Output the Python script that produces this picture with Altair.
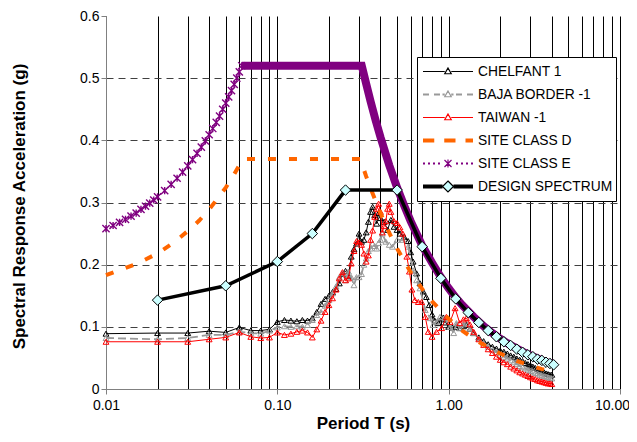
import altair as alt
import pandas as pd

# ---------------- data ----------------
SERIES = ["CHELFANT 1", "BAJA BORDER -1", "TAIWAN -1", "SITE CLASS D", "SITE CLASS E", "DESIGN SPECTRUM"]

CHELFANT_T = [0.01, 0.02, 0.03, 0.04, 0.05, 0.06, 0.07, 0.08, 0.09, 0.10,
              0.11, 0.12, 0.13, 0.14, 0.15, 0.16, 0.17, 0.18, 0.19, 0.20,
              0.21, 0.22, 0.23, 0.24, 0.25, 0.26, 0.27, 0.28, 0.29, 0.30,
              0.31, 0.32, 0.33, 0.34, 0.35, 0.36, 0.37, 0.38, 0.39, 0.40,
              0.42, 0.44, 0.46, 0.48, 0.50, 0.52, 0.55, 0.58, 0.60, 0.62,
              0.65, 0.68, 0.71, 0.74, 0.77, 0.80, 0.83, 0.87, 0.90, 0.93,
              0.96, 1.00, 1.05, 1.10, 1.16, 1.22, 1.27, 1.33,
              1.4, 1.5, 1.6, 1.7, 1.8, 1.9, 2.0, 2.1, 2.2, 2.3, 2.4, 2.5, 2.6, 2.7,
              2.8, 2.9, 3.0, 3.1, 3.2, 3.3, 3.4, 3.5, 3.6, 3.7, 3.8, 3.9, 4.0]
CHELFANT_SA = [0.089, 0.090, 0.090, 0.093, 0.091, 0.099, 0.094, 0.094, 0.096, 0.108,
               0.111, 0.110, 0.109, 0.111, 0.110, 0.114, 0.124, 0.137, 0.145, 0.150,
               0.156, 0.161, 0.170, 0.185, 0.190, 0.182, 0.213, 0.225, 0.234, 0.250,
               0.237, 0.240, 0.252, 0.269, 0.285, 0.293, 0.280, 0.266, 0.283, 0.275,
               0.269, 0.256, 0.272, 0.261, 0.256, 0.250, 0.245, 0.238, 0.220, 0.205,
               0.186, 0.170, 0.157, 0.148, 0.135, 0.120, 0.110, 0.106, 0.112, 0.115,
               0.107, 0.100, 0.099, 0.100, 0.098, 0.101, 0.103, 0.097,
               0.090, 0.083, 0.077, 0.072, 0.068, 0.065, 0.062, 0.060, 0.057, 0.054,
               0.052, 0.049, 0.047, 0.045, 0.042, 0.040, 0.038, 0.036, 0.034, 0.032,
               0.030, 0.029, 0.027, 0.025, 0.024, 0.023, 0.023]

BAJA_T = [0.01, 0.02, 0.03, 0.04, 0.05, 0.06, 0.07, 0.08, 0.09, 0.10,
          0.11, 0.12, 0.13, 0.14, 0.15, 0.16, 0.17, 0.18, 0.19, 0.20,
          0.21, 0.22, 0.23, 0.24, 0.25, 0.26, 0.27, 0.28, 0.29, 0.30,
          0.31, 0.32, 0.33, 0.34, 0.35, 0.36, 0.37, 0.38, 0.39, 0.40, 0.41,
          0.43, 0.45, 0.47, 0.50, 0.54, 0.58, 0.62, 0.65, 0.68, 0.73, 0.78,
          0.81, 0.85, 0.89, 0.95, 1.02, 1.07, 1.11, 1.16, 1.22, 1.27, 1.33,
          1.4, 1.5, 1.6, 1.7, 1.8, 1.9, 2.0, 2.1, 2.2, 2.3, 2.4, 2.5, 2.6, 2.7,
          2.8, 2.9, 3.0, 3.1, 3.2, 3.3, 3.4, 3.5, 3.6, 3.7, 3.8, 3.9, 4.0]
BAJA_SA = [0.082, 0.080, 0.082, 0.087, 0.087, 0.092, 0.090, 0.089, 0.094, 0.099,
           0.101, 0.100, 0.101, 0.100, 0.103, 0.111, 0.119, 0.124, 0.134, 0.143,
           0.154, 0.165, 0.180, 0.186, 0.175, 0.189, 0.180, 0.167, 0.180, 0.180,
           0.185, 0.200, 0.210, 0.222, 0.226, 0.234, 0.230, 0.226, 0.235, 0.240, 0.250,
           0.237, 0.232, 0.229, 0.240, 0.240, 0.229, 0.191, 0.175, 0.162, 0.127, 0.114,
           0.103, 0.108, 0.116, 0.114, 0.100, 0.090, 0.106, 0.098, 0.104, 0.106, 0.097,
           0.090, 0.081, 0.074, 0.068, 0.063, 0.059, 0.055, 0.052, 0.049, 0.046,
           0.043, 0.040, 0.037, 0.035, 0.033, 0.031, 0.029, 0.028, 0.026, 0.025,
           0.023, 0.022, 0.021, 0.020, 0.019, 0.018, 0.017]

TAIWAN_T = [0.01, 0.02, 0.03, 0.04, 0.05, 0.06, 0.07, 0.08, 0.09, 0.10,
            0.11, 0.12, 0.13, 0.14, 0.15, 0.16, 0.17, 0.18, 0.19, 0.20,
            0.21, 0.22, 0.23, 0.24, 0.25, 0.26, 0.27, 0.28, 0.29, 0.30,
            0.31, 0.32, 0.33, 0.34, 0.35, 0.36, 0.37, 0.38, 0.39, 0.40,
            0.41, 0.42, 0.43, 0.44, 0.45, 0.46,
            0.48, 0.50, 0.52, 0.54, 0.57, 0.59, 0.61, 0.635, 0.665, 0.695, 0.73,
            0.76, 0.80, 0.85, 0.91, 0.97, 1.02, 1.09, 1.16, 1.22, 1.27, 1.33,
            1.4, 1.5, 1.6, 1.7, 1.8, 1.9, 2.0, 2.1, 2.2, 2.3, 2.4, 2.5, 2.6, 2.7,
            2.8, 2.9, 3.0, 3.1, 3.2, 3.3, 3.4, 3.5, 3.6, 3.7, 3.8, 3.9, 4.0]
TAIWAN_SA = [0.076, 0.076, 0.076, 0.080, 0.083, 0.091, 0.084, 0.082, 0.083, 0.091,
             0.087, 0.089, 0.092, 0.094, 0.091, 0.083, 0.096, 0.110, 0.124, 0.135,
             0.146, 0.160, 0.178, 0.188, 0.175, 0.178, 0.202, 0.222, 0.238, 0.236,
             0.232, 0.218, 0.205, 0.215, 0.240, 0.255, 0.277, 0.290, 0.298, 0.285,
             0.252, 0.262, 0.270, 0.290, 0.298, 0.285,
             0.270, 0.267, 0.260, 0.250, 0.213, 0.189, 0.160, 0.143, 0.140, 0.140, 0.116,
             0.092, 0.084, 0.092, 0.098, 0.116, 0.108, 0.130, 0.106, 0.112, 0.114, 0.104,
             0.092, 0.080, 0.071, 0.064, 0.058, 0.052, 0.047, 0.043, 0.040, 0.036,
             0.033, 0.030, 0.027, 0.025, 0.023, 0.021, 0.019, 0.017, 0.016, 0.014,
             0.013, 0.012, 0.011, 0.010, 0.009, 0.009, 0.008]

SITE_D_T = [0.01, 0.015, 0.02, 0.025, 0.03, 0.035, 0.04, 0.045, 0.05, 0.055, 0.063,
            0.305, 0.33, 0.35, 0.4, 0.45, 0.5, 0.6, 0.7, 0.8, 0.9, 1.0, 1.2, 1.4,
            1.6, 1.8, 2.0, 2.5, 3.0, 3.5, 4.0]
SITE_D_SA = [0.183, 0.201, 0.218, 0.236, 0.254, 0.271, 0.289, 0.307, 0.324, 0.342, 0.370,
             0.370, 0.342, 0.323, 0.283, 0.251, 0.226, 0.188, 0.161, 0.141, 0.126, 0.113,
             0.094, 0.081, 0.071, 0.063, 0.057, 0.045, 0.038, 0.032, 0.028]

SITE_E_RISE_T = [0.010, 0.011, 0.012, 0.013, 0.014, 0.015, 0.016, 0.017, 0.018, 0.019, 0.020,
                 0.022, 0.024, 0.026, 0.028, 0.030, 0.032, 0.034, 0.036, 0.038, 0.040,
                 0.042, 0.044, 0.046, 0.048, 0.050, 0.052, 0.054, 0.056, 0.058, 0.060, 0.062]
SITE_E_RISE_SA = [0.258, 0.263, 0.268, 0.273, 0.278, 0.283, 0.289, 0.294, 0.299, 0.304, 0.309,
                  0.319, 0.329, 0.339, 0.349, 0.359, 0.369, 0.379, 0.389, 0.399, 0.409,
                  0.419, 0.429, 0.439, 0.450, 0.460, 0.470, 0.480, 0.490, 0.500, 0.510, 0.520]
SITE_E_BAND_T = [0.062, 0.311, 0.33, 0.35, 0.375, 0.4, 0.45, 0.5, 0.55, 0.6, 0.7, 0.8, 0.9,
                 1.0, 1.1, 1.2, 1.4, 1.6, 1.8, 2.0, 2.25, 2.5, 2.75, 3.0, 3.25, 3.5, 3.75, 4.0]
SITE_E_BAND_SA = [0.520, 0.520, 0.491, 0.463, 0.432, 0.405, 0.360, 0.324, 0.295, 0.270, 0.231,
                  0.203, 0.180, 0.162, 0.147, 0.135, 0.116, 0.101, 0.090, 0.081, 0.072, 0.065,
                  0.059, 0.054, 0.050, 0.046, 0.043, 0.041]

DESIGN_T = [0.02, 0.05, 0.10, 0.16, 0.25, 0.5, 0.7, 0.9, 1.1, 1.3, 1.5, 1.7, 1.9, 2.1,
            2.3, 2.5, 2.7, 2.9, 3.1, 3.3, 3.5, 3.7, 3.9, 4.1]
DESIGN_SA = [0.143, 0.166, 0.205, 0.250, 0.320, 0.320, 0.229, 0.178, 0.145, 0.123, 0.107,
             0.094, 0.084, 0.076, 0.070, 0.064, 0.059, 0.055, 0.052, 0.048, 0.046, 0.043,
             0.041, 0.039]

X_TICKS = [0.01, 0.02, 0.03, 0.04, 0.05, 0.06, 0.07, 0.08, 0.09,
           0.1, 0.2, 0.3, 0.4, 0.5, 0.6, 0.7, 0.8, 0.9,
           1, 2, 3, 4, 5, 6, 7, 8, 9, 10]
Y_TICKS = [0, 0.1, 0.2, 0.3, 0.4, 0.5, 0.6]

# ---------------- styling ----------------
FONT = "Liberation Sans"
PURPLE = "#800080"
ORANGE = "#FF6600"
GRAY = "#999999"
RED = "#FF0000"
CYAN = "#CCFFFF"
AXIS_GRAY = "#808080"


def frame(t, sa, name):
    assert len(t) == len(sa), name
    return pd.DataFrame({"T": t, "Sa": sa, "series": name})


chelfant = frame(CHELFANT_T, CHELFANT_SA, SERIES[0])
baja = frame(BAJA_T, BAJA_SA, SERIES[1])
taiwan = frame(TAIWAN_T, TAIWAN_SA, SERIES[2])
site_d = frame(SITE_D_T, SITE_D_SA, SERIES[3])
site_e_rise = frame(SITE_E_RISE_T, SITE_E_RISE_SA, SERIES[4])
site_e_band = frame(SITE_E_BAND_T, SITE_E_BAND_SA, SERIES[4])
design = frame(DESIGN_T, DESIGN_SA, SERIES[5])
all_rows = pd.concat([chelfant, baja, taiwan, site_d, site_e_band, design], ignore_index=True)

DECADE = "abs(log(datum.value)/LN10 - round(log(datum.value)/LN10)) < 0.000001"

x_axis = alt.Axis(
    values=X_TICKS, grid=True, gridColor="#000000", gridWidth=1,
    labelExpr=f"{DECADE} ? format(datum.value, '.2f') : ''",
    tickOpacity={"condition": {"test": DECADE, "value": 1}, "value": 0},
    labelOffset={"condition": {"test": "datum.value > 5", "value": -8}, "value": 0},
    tickSize=5, tickColor=AXIS_GRAY, domainColor=AXIS_GRAY,
    labelFont=FONT, labelFontSize=14, labelColor="black", labelPadding=4,
    labelFlush=False, labelOverlap=False,
    title="Period T (s)", titleFont=FONT, titleFontSize=17, titleFontWeight="bold",
    titleColor="black", titleX=257, titleY=39, titleAlign="center", titleBaseline="alphabetic",
)
y_axis = alt.Axis(
    values=Y_TICKS, grid=True, gridDash=[7, 5], gridColor="#404040",
    gridOpacity={"condition": {"test": "datum.value < 0.05 || datum.value > 0.55", "value": 0}, "value": 1},
    labelExpr="datum.value == 0 ? '0' : format(datum.value, '.1f')",
    tickSize=5, tickColor=AXIS_GRAY, domainColor=AXIS_GRAY,
    labelFont=FONT, labelFontSize=14, labelColor="black", labelPadding=2, labelFlush=False,
    title="Spectral Response Acceleration (g)", titleFont=FONT, titleFontSize=17,
    titleFontWeight="bold", titleColor="black", titleAngle=-90, titleX=-82, titleY=190,
    titleAlign="center", titleBaseline="alphabetic",
)

X = alt.X("T:Q", scale=alt.Scale(type="log", domain=[0.01, 10], nice=False), axis=x_axis)
Y = alt.Y("Sa:Q", scale=alt.Scale(domain=[0, 0.6], nice=False, zero=False), axis=y_axis)


def line(df, color, width, dash=None):
    kw = dict(color=color, strokeWidth=width, opacity=1)
    if dash:
        kw["strokeDash"] = dash
    return alt.Chart(df).mark_line(**kw).encode(x=X, y=Y)


def points(df, shape, size, stroke, width, fill=None):
    if fill:
        m = alt.Chart(df).mark_point(shape=shape, size=size, filled=True, fill=fill,
                                     stroke=stroke, strokeWidth=width, opacity=1)
    else:
        m = alt.Chart(df).mark_point(shape=shape, size=size, filled=False, color=stroke,
                                     strokeWidth=width, opacity=1)
    return m.encode(x=X, y=Y)


ASTERISK = "M-1,-1L1,1M-1,1L1,-1M0,-1L0,1"

# ---------------- legend symbols (line + marker glyphs, 50 px wide) ----------------
def seg(x0, x1, y=0.0):
    return f"M{x0},{y}L{x1},{y}"

TRI = "M0,-0.14L0.13,0.09L-0.13,0.09Z"
LEG_CHELFANT = seg(-1, -0.13) + seg(0.13, 1) + TRI
LEG_BAJA = "".join(seg(a, b, y) for a, b in [(-1, -0.76), (-0.56, -0.32), (-0.22, -0.13),
                                             (0.13, 0.22), (0.32, 0.56), (0.76, 1)]
                   for y in (-0.015, 0.015)) + TRI
LEG_TAIWAN = LEG_CHELFANT
LEG_D = "".join(seg(a, b, y) for a, b in [(-1, -0.55), (-0.15, 0.3), (0.7, 1)]
                for y in (-0.06, -0.02, 0.02, 0.06))
LEG_E = "".join(seg(a, a + 0.08, y) for a in (-1, -0.8, -0.6, -0.4, 0.32, 0.52, 0.72, 0.92)
                for y in (-0.02, 0.02)) + "M-0.14,-0.14L0.14,0.14M-0.14,0.14L0.14,-0.14M0,-0.16L0,0.16"
LEG_DS = "".join(seg(a, b, y) for a, b in [(-1, -0.22), (0.22, 1)]
                 for y in (-0.06, -0.02, 0.02, 0.06)) + "M0,-0.22L0.22,0L0,0.22L-0.22,0Z"

leg = alt.Legend(
    title=None, orient="none", legendX=311, legendY=41, zindex=1,
    fillColor="white", strokeColor="black", padding=3, rowPadding=0,
    clipHeight=23, symbolSize=2500, symbolOffset=2, labelOffset=4,
    symbolStrokeWidth=1.2, symbolFillColor="transparent",
    labelFont=FONT, labelFontSize=13.8, labelColor="black",
)
legend_layer = alt.Chart(all_rows).transform_filter("false").mark_point(opacity=1, filled=False).encode(
    x=X, y=Y,
    shape=alt.Shape("series:N", scale=alt.Scale(domain=SERIES, range=[LEG_CHELFANT, LEG_BAJA, LEG_TAIWAN, LEG_D, LEG_E, LEG_DS]), legend=leg),
    stroke=alt.Stroke("series:N", scale=alt.Scale(domain=SERIES, range=["black", GRAY, RED, ORANGE, PURPLE, "black"]), legend=leg),
    fill=alt.Fill("series:N", scale=alt.Scale(domain=SERIES, range=["transparent", "transparent", "transparent", "transparent", "transparent", CYAN]), legend=leg),
)

layers = [
    line(chelfant, "black", 1),
    points(chelfant, "triangle-up", 34, "black", 1),
    line(baja, GRAY, 1.8, [8, 4]),
    points(baja, "triangle-up", 34, GRAY, 1),
    line(taiwan, RED, 1),
    points(taiwan, "triangle-up", 34, RED, 1),
    line(site_d, ORANGE, 4, [8, 13]),
    line(site_e_rise, PURPLE, 1, [2, 2]),
    points(site_e_rise, ASTERISK, 52, PURPLE, 1.4),
    line(site_e_band, PURPLE, 8),
    line(design, "black", 3.5),
    points(design, "diamond", 110, "black", 1, fill=CYAN),
    legend_layer,
]

chart = alt.layer(*layers).properties(
    width=514, height=373,
    padding={"left": 98, "top": 8, "right": 9, "bottom": 45},
    autosize=alt.AutoSizeParams(type="none"),
    background="white",
).configure_view(stroke=None)

chart.save("out.html", embed_options={"renderer": "svg", "actions": False})
